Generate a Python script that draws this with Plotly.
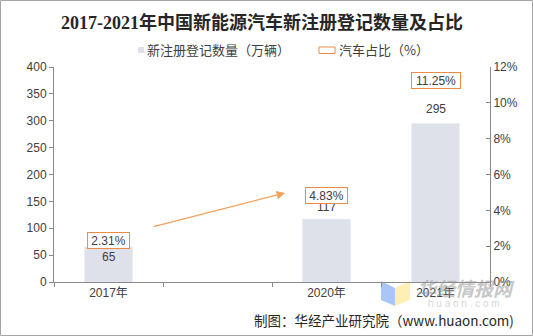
import plotly.graph_objects as go

# ---------------- data ----------------
years = ["2017年", " ", "2020年", "2021年"]
counts = [65, None, 117, 295]          # 新注册登记数量（万辆）
shares = [2.31, None, 4.83, 11.25]      # 汽车占比（%）
left_ticks = list(range(0, 401, 50))
right_ticks = list(range(0, 13, 2))

title_text = "2017-2021年中国新能源汽车新注册登记数量及占比"
legend_bar = "新注册登记数量（万辆）"
legend_line = "汽车占比（%）"
source_text = "制图：华经产业研究院（www.huaon.com)"

# ---------------- layout geometry ----------------
W, H = 533, 336
L, R, T, B = 54, 43, 67, 54
PW, PH = W - L - R, H - T - B


def px(x):
    return (x - L) / PW


def py(y):
    return (H - B - y) / PH


BAR_COLOR = "#DEE1EA"
ORANGE = "#ED8B45"
ARROW = "#F4A15D"
AXIS = "#898989"
TXT = "#404040"
FONT = "Liberation Sans, Arial, Noto Sans CJK SC"
CJK = "Noto Sans CJK SC, Liberation Sans"

# label placement style (per category index): anchor and pixel shift
label_style = {0: ("top", -1), 2: ("bottom", 3), 3: ("bottom", 5)}

fig = go.Figure()

fig.add_trace(go.Bar(
    x=years, y=counts, marker_color=BAR_COLOR, width=0.44,
    showlegend=False, hoverinfo="skip", yaxis="y",
))
fig.add_trace(go.Scatter(
    x=years, y=shares, mode="markers", marker=dict(opacity=0),
    showlegend=False, hoverinfo="skip", yaxis="y2",
))

annotations = []

# bar value labels
for i, (cat, v) in enumerate(zip(years, counts)):
    if v is None:
        continue
    anchor, shift = label_style.get(i, ("bottom", 5))
    annotations.append(dict(x=cat, y=v, xref="x", yref="y", text=str(v),
                            showarrow=False, yanchor=anchor, yshift=shift,
                            font=dict(family=FONT, size=12, color=TXT)))

# percentage labels in boxes
for cat, s in zip(years, shares):
    if s is None:
        continue
    t = f"{s:.2f}%"
    annotations.append(dict(x=cat, y=s, xref="x", yref="y2", text=t,
                            showarrow=False, bordercolor=ORANGE, borderwidth=1,
                            borderpad=0, bgcolor="white",
                            width=7 * len(t) + 6, height=15,
                            font=dict(family=FONT, size=12, color=TXT)))

# trend arrow
annotations.append(dict(x=1.62, y=4.97, xref="x", yref="y2",
                        ax=0.40, ay=3.07, axref="x", ayref="y2",
                        text="", showarrow=True, arrowhead=2, arrowsize=1.3,
                        arrowwidth=1.3, arrowcolor=ARROW))

# title
annotations.append(dict(x=px(262), y=py(22), xref="paper", yref="paper",
                        text="<b>" + title_text + "</b>", showarrow=False,
                        xanchor="center", yanchor="middle",
                        font=dict(family="Liberation Serif, Noto Sans CJK SC", size=18, color="#262626")))

# legend texts
annotations.append(dict(x=px(145), y=py(50), xref="paper", yref="paper",
                        text=legend_bar, showarrow=False, xanchor="left", yanchor="middle",
                        font=dict(family=CJK, size=13, color=TXT)))
annotations.append(dict(x=px(337), y=py(50), xref="paper", yref="paper",
                        text=legend_line, showarrow=False, xanchor="left", yanchor="middle",
                        font=dict(family=CJK, size=13, color=TXT)))

# watermark
annotations.append(dict(x=px(466), y=py(287), xref="paper", yref="paper",
                        text="<b><i>华经情报网</i></b>", showarrow=False,
                        xanchor="center", yanchor="middle",
                        font=dict(family=CJK, size=19, color="rgba(150,150,150,0.55)")))
annotations.append(dict(x=px(464), y=py(303), xref="paper", yref="paper",
                        text="h u a o n . c o m", showarrow=False,
                        xanchor="center", yanchor="middle",
                        font=dict(family=FONT, size=10, color="rgba(170,170,170,0.5)")))

# source
annotations.append(dict(x=px(516), y=py(320), xref="paper", yref="paper",
                        text=source_text, showarrow=False, xanchor="right", yanchor="middle",
                        font=dict(family=CJK, size=13.5, color="#262626")))

shapes = [
    # outer border
    dict(type="rect", xref="paper", yref="paper",
         x0=px(0.5), x1=px(W - 0.5), y0=py(H - 0.5), y1=py(0.5),
         line=dict(color="#A6A6A6", width=1), fillcolor="rgba(0,0,0,0)", layer="above"),
    # legend symbols
    dict(type="rect", xref="paper", yref="paper",
         x0=px(138), x1=px(144), y0=py(53), y1=py(47),
         line=dict(width=0), fillcolor=BAR_COLOR),
    dict(type="rect", xref="paper", yref="paper",
         x0=px(319), x1=px(335), y0=py(53.5), y1=py(47),
         line=dict(color=ORANGE, width=1), fillcolor="white"),
    # watermark logo
    dict(type="path", xref="paper", yref="paper",
         path=f"M {px(381)},{py(281)} L {px(395)},{py(288)} L {px(395)},{py(306)} L {px(381)},{py(300)} Z",
         line=dict(width=0), fillcolor="rgba(110,160,240,0.6)", layer="below"),
    dict(type="path", xref="paper", yref="paper",
         path=f"M {px(395)},{py(288)} L {px(410)},{py(281)} L {px(410)},{py(300)} L {px(395)},{py(306)} Z",
         line=dict(width=0), fillcolor="rgba(255,225,120,0.55)", layer="below"),
]

fig.update_layout(
    width=W, height=H,
    margin=dict(l=L, r=R, t=T, b=B, pad=0),
    paper_bgcolor="white", plot_bgcolor="rgba(0,0,0,0)",
    showlegend=False,
    xaxis=dict(type="category", categoryorder="array", categoryarray=years,
               showline=True, linecolor=AXIS, linewidth=1,
               ticks="outside", ticklen=4, tickcolor=AXIS, tickson="boundaries",
               showgrid=False, zeroline=False,
               tickfont=dict(family=FONT, size=12, color=TXT)),
    yaxis=dict(range=[0, 400], tickvals=left_ticks,
               showline=True, linecolor=AXIS, linewidth=1,
               ticks="outside", ticklen=4, tickcolor=AXIS,
               showgrid=False, zeroline=False,
               tickfont=dict(family=FONT, size=12, color=TXT)),
    yaxis2=dict(range=[0, 12], tickvals=right_ticks,
                ticktext=[f"{v}%" for v in right_ticks],
                overlaying="y", side="right",
                showline=True, linecolor=AXIS, linewidth=1,
                ticks="inside", ticklen=4, tickcolor=AXIS,
                showgrid=False, zeroline=False,
                tickfont=dict(family=FONT, size=12, color=TXT)),
    annotations=annotations,
    shapes=shapes,
)

fig.write_html("out.html")
